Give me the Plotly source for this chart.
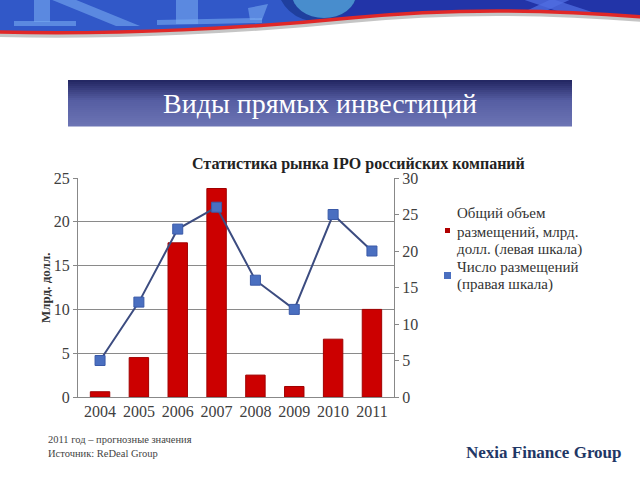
import plotly.graph_objects as go

years = ["2004", "2005", "2006", "2007", "2008", "2009", "2010", "2011"]
volume_bln_usd = [0.6, 4.5, 17.6, 23.8, 2.5, 1.2, 6.6, 10.0]
ipo_count = [5, 13, 23, 26, 16, 12, 25, 20]
left_ticks = [0, 5, 10, 15, 20, 25]
right_ticks = [0, 5, 10, 15, 20, 25, 30]
legend_lines = ["Общий объем", "размещений, млрд.", "долл. (левая шкала)",
                "Число размещений", "(правая шкала)"]

W, H = 640, 480
L, R, T, B = 78, 394, 178, 397


def px(x):
    return (x - L) / (R - L)


def py(y):
    return (B - y) / (B - T)


def pt(x, y):
    return f"{px(x):.5f},{py(y):.5f}"


def poly(points):
    return "M " + " L ".join(pt(x, y) for x, y in points) + " Z"


SERIF = "Liberation Serif, Times New Roman, serif"

fig = go.Figure()
fig.add_trace(go.Bar(
    x=years, y=volume_bln_usd,
    marker=dict(color="#cc0000", line=dict(color="#a00000", width=1)),
    width=0.5, showlegend=False, yaxis="y",
))
fig.add_trace(go.Scatter(
    x=years, y=ipo_count, mode="lines+markers", yaxis="y2",
    line=dict(color="#3c4c80", width=2),
    marker=dict(symbol="square", size=10, color="#4a6fc0", line=dict(color="#3a5aa8", width=1)),
    showlegend=False,
))

shapes = []
banner = (f"M {pt(-2,-2)} L {pt(642,-2)} L {pt(642,17)} "
          f"C {pt(520,7)} {pt(420,11)} {pt(350,18)} "
          f"C {pt(250,28)} {pt(120,35)} {pt(-2,32)} Z")
shapes.append(dict(type="path", xref="paper", yref="paper", path=banner,
                   fillcolor="#3158c8", line=dict(width=0), layer="below"))
dark = (f"M {pt(320,-2)} L {pt(642,-2)} L {pt(642,17)} "
        f"C {pt(520,7)} {pt(420,11)} {pt(350,18)} L {pt(320,21)} Z")
shapes.append(dict(type="path", xref="paper", yref="paper", path=dark,
                   fillcolor="#2234a8", line=dict(width=0), layer="below"))
light = "rgba(120,170,240,0.6)"
for pts in [
    [(14, 21), (76, 21), (76, 26), (14, 26)],
    [(34, -5), (50, -5), (50, 22), (34, 22)],
    [(40, -5), (64, -5), (140, 26), (116, 26)],
    [(176, -5), (198, -5), (198, 24), (176, 24)],
    [(157, 20), (262, 18), (262, 23), (157, 25)],
    [(248, 8), (268, 4), (262, 20), (250, 20)],
]:
    shapes.append(dict(type="path", xref="paper", yref="paper", path=poly(pts),
                       fillcolor=light, line=dict(width=0), layer="below"))
for pts in [
    [(510, -5), (540, -5), (592, 12), (560, 12)],
    [(560, -5), (580, -5), (548, 10), (526, 11)],
]:
    shapes.append(dict(type="path", xref="paper", yref="paper", path=poly(pts),
                       fillcolor="rgba(80,110,225,0.75)", line=dict(width=0), layer="below"))
shapes.append(dict(type="circle", xref="paper", yref="paper",
                   x0=px(277), x1=px(360), y0=py(-55), y1=py(22),
                   fillcolor="#1f3f9e", line=dict(width=0), layer="below"))
shapes.append(dict(type="circle", xref="paper", yref="paper",
                   x0=px(292), x1=px(356), y0=py(-30), y1=py(18),
                   fillcolor="rgba(90,175,225,0.7)", line=dict(width=0), layer="below"))
curve = (f"M {pt(-2,32)} C {pt(120,35)} {pt(250,28)} {pt(350,18)} "
         f"C {pt(420,11)} {pt(520,7)} {pt(642,17)}")
shadow = (f"M {pt(-2,35)} C {pt(120,38)} {pt(250,31)} {pt(350,21)} "
          f"C {pt(420,14)} {pt(520,10)} {pt(642,20)}")
shapes.append(dict(type="path", xref="paper", yref="paper", path=shadow,
                   line=dict(color="rgba(90,90,90,0.35)", width=4), layer="below"))
shapes.append(dict(type="path", xref="paper", yref="paper", path=curve,
                   line=dict(color="#e02828", width=3.5), layer="below"))

x0b, x1b, y0b, y1b = 68, 572, 80, 126
n = 23
c_top = (36, 40, 100)
c_mid = (86, 94, 163)
c_bot = (108, 116, 180)
for i in range(n):
    t = i / (n - 1)
    if t < 0.45:
        u = t / 0.45
        c = [int(c_top[k] + (c_mid[k] - c_top[k]) * u) for k in range(3)]
    else:
        u = (t - 0.45) / 0.55
        c = [int(c_mid[k] + (c_bot[k] - c_mid[k]) * u) for k in range(3)]
    ya = y0b + (y1b - y0b) * i / n
    yb = y0b + (y1b - y0b) * (i + 1) / n + 0.5
    shapes.append(dict(type="rect", xref="paper", yref="paper",
                       x0=px(x0b), x1=px(x1b), y0=py(ya), y1=py(yb),
                       fillcolor=f"rgb({c[0]},{c[1]},{c[2]})", line=dict(width=0), layer="below"))

shapes.append(dict(type="rect", xref="paper", yref="paper",
                   x0=px(445), x1=px(450), y0=py(228), y1=py(233),
                   fillcolor="#b00000", line=dict(width=0)))
shapes.append(dict(type="rect", xref="paper", yref="paper",
                   x0=px(444), x1=px(451), y0=py(272), y1=py(279),
                   fillcolor="#4a6fc0", line=dict(width=0)))

annotations = [
    dict(text="Виды прямых инвестиций", x=px(320), y=py(104), xref="paper", yref="paper",
         xanchor="center", yanchor="middle", showarrow=False,
         font=dict(family=SERIF, size=28, color="white")),
    dict(text="<b>Статистика рынка IPO российских компаний</b>", x=px(358), y=py(164),
         xref="paper", yref="paper", xanchor="center", yanchor="middle", showarrow=False,
         font=dict(family=SERIF, size=16, color="#222222")),
    dict(text="<b>Млрд. долл.</b>", x=px(45), y=py(288), xref="paper", yref="paper",
         xanchor="center", yanchor="middle", showarrow=False, textangle=-90,
         font=dict(family=SERIF, size=13, color="#333333")),
    dict(text="2011 год – прогнозные значения<br>Источник: ReDeal Group",
         x=px(46), y=py(432), xref="paper", yref="paper", xanchor="left", yanchor="top",
         align="left", showarrow=False,
         font=dict(family=SERIF, size=10.5, color="#444444")),
    dict(text="<b>Nexia Finance Group</b>", x=px(624), y=py(452), xref="paper", yref="paper",
         xanchor="right", yanchor="middle", showarrow=False,
         font=dict(family=SERIF, size=17, color="#1f3766")),
]
legend_y = [213, 231.5, 249.5, 267, 284.5]
for txt, yy in zip(legend_lines, legend_y):
    annotations.append(dict(text=txt, x=px(455), y=py(yy), xref="paper", yref="paper",
                            xanchor="left", yanchor="middle", showarrow=False,
                            font=dict(family=SERIF, size=15, color="#333333")))

fig.update_layout(
    width=W, height=H,
    margin=dict(l=L, r=W - R, t=T, b=H - B, pad=0),
    paper_bgcolor="white", plot_bgcolor="white",
    bargap=0.5,
    shapes=shapes, annotations=annotations,
    xaxis=dict(type="category", showline=True, linecolor="#888888", linewidth=1,
               ticks="", tickfont=dict(family=SERIF, size=16, color="#404040"),
               showgrid=False),
    yaxis=dict(range=[0, 25], tickvals=left_ticks, showline=True, linecolor="#888888",
               gridcolor="#8a8a8a", gridwidth=1, ticks="outside", ticklen=4, tickcolor="#888888",
               tickfont=dict(family=SERIF, size=16, color="#404040"), zeroline=False),
    yaxis2=dict(range=[0, 30], tickvals=right_ticks, overlaying="y", side="right",
                showline=True, linecolor="#888888", showgrid=False, ticks="outside", ticklen=4,
                tickcolor="#888888", tickfont=dict(family=SERIF, size=16, color="#404040"),
                zeroline=False),
    showlegend=False,
)

fig.write_html("out.html")
